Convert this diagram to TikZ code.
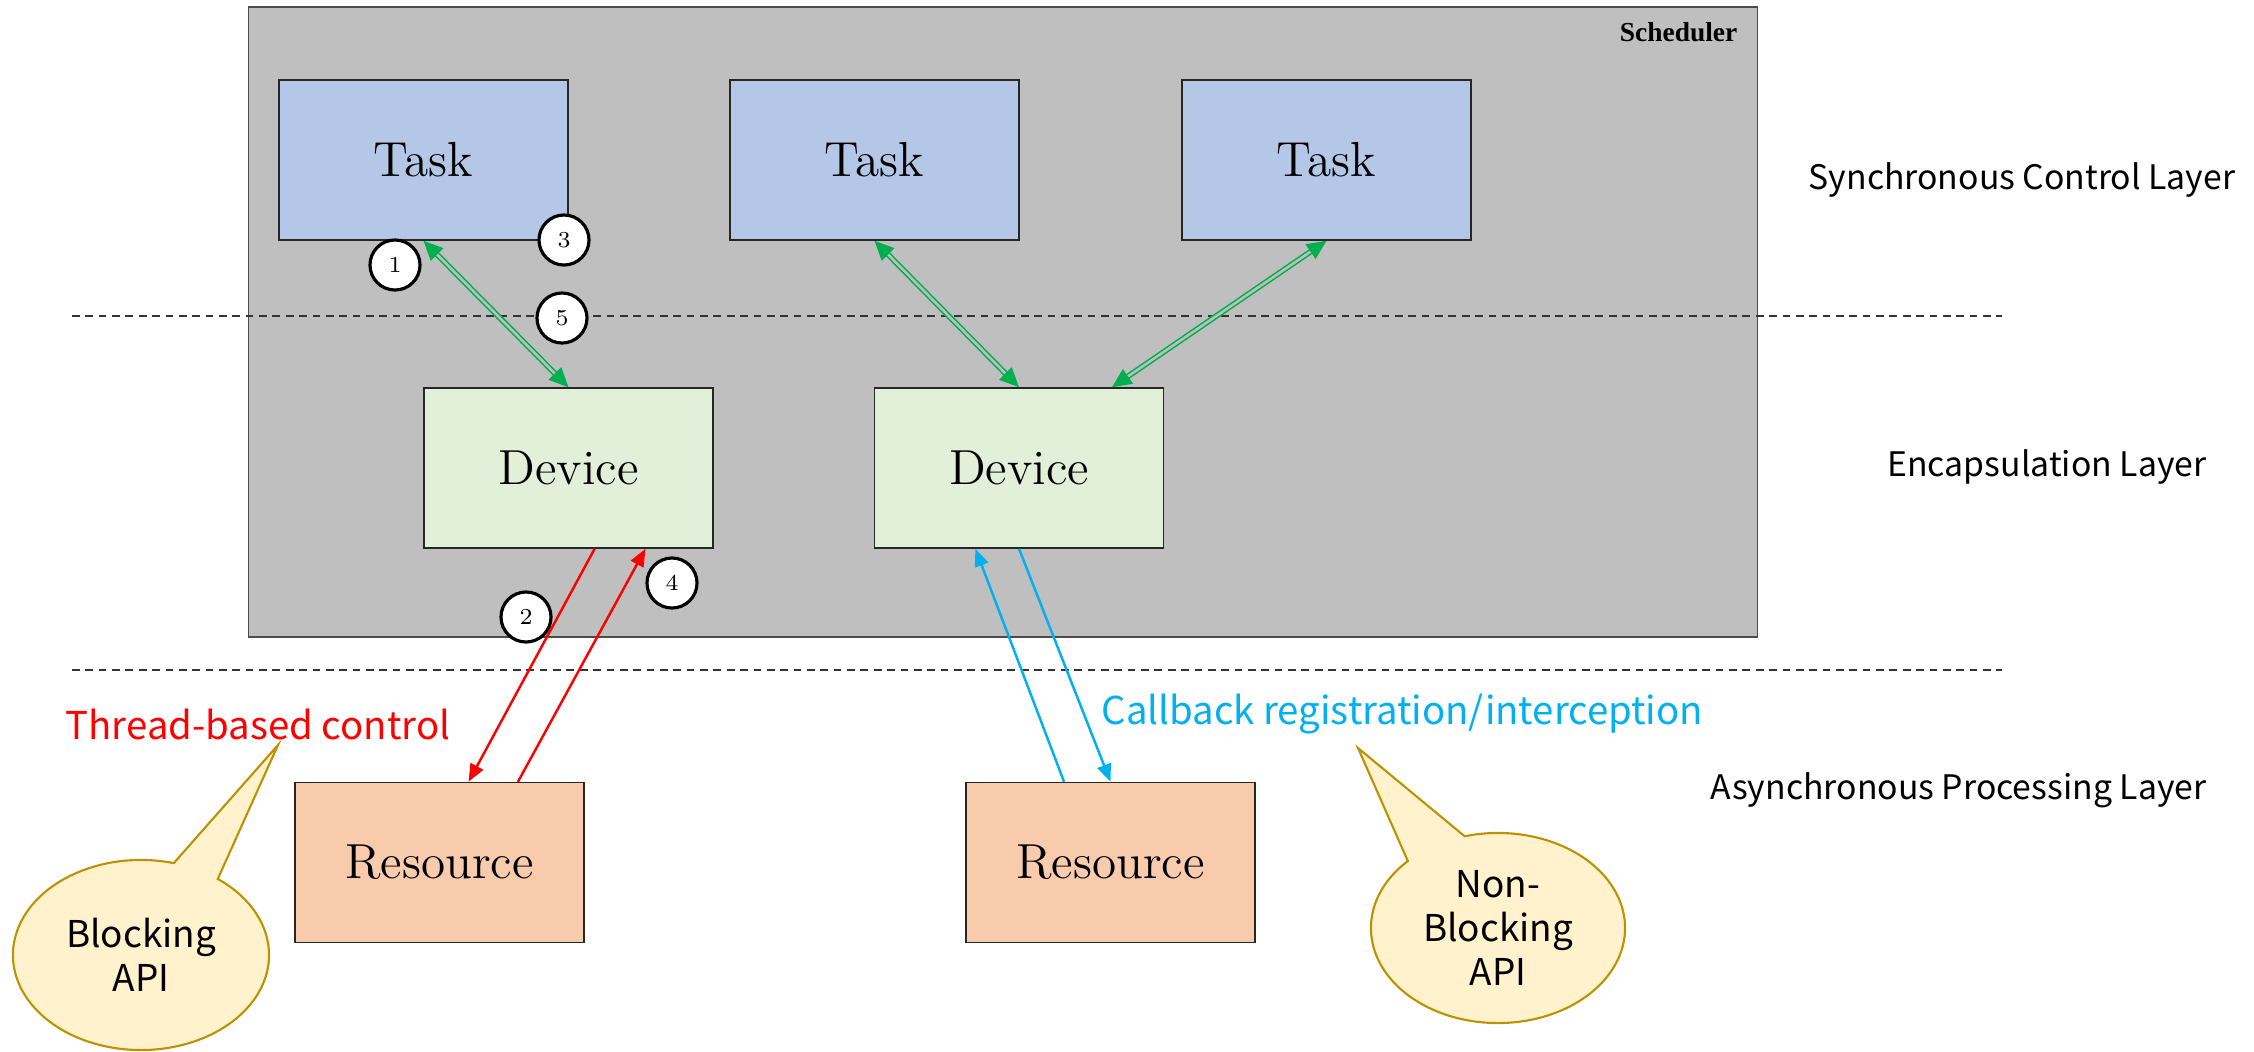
\documentclass[tikz,border=0pt]{standalone}
\usepackage{fontspec}
\newfontfamily\gothic{Noto Sans CJK JP}
\newfontfamily\schedfont{Liberation Serif}
\usetikzlibrary{arrows.meta,shapes.callouts,calc}
\definecolor{schedgray}{HTML}{BFBFBF}
\definecolor{taskblue}{HTML}{B4C7E7}
\definecolor{devgreen}{HTML}{E2F0D9}
\definecolor{resorange}{HTML}{F8CBAD}
\definecolor{arrgreen}{HTML}{00B050}
\definecolor{arrblue}{HTML}{00B0F0}
\definecolor{calloutfill}{HTML}{FFF2CC}
\definecolor{calloutdraw}{HTML}{BF9000}
\begin{document}
\begin{tikzpicture}[x=0.01cm,y=-0.01cm,
  box/.style={draw=black!85,line width=0.4pt,minimum width=2.89cm,minimum height=1.6cm,inner sep=0pt,font=\fontsize{14}{16}\selectfont},
  taskbox/.style={box,fill=taskblue},
  devbox/.style={box,fill=devgreen},
  resbox/.style={box,fill=resorange},
  schedbox/.style={draw=black!70,line width=0.4pt,fill=schedgray,minimum width=15.08cm,minimum height=6.3cm,inner sep=0pt},
  num/.style={circle,draw=black,line width=0.9pt,fill=white,minimum size=0.5cm,inner sep=0pt,font=\fontsize{6.5}{7}\selectfont},
  layer/.style={font=\gothic\fontsize{9.6}{11}\selectfont,inner sep=0pt},
  dashline/.style={draw=black!80,line width=0.4pt,dash pattern=on 2.2pt off 1.6pt},
  garrow/.style={draw=arrgreen,line width=0.45pt,double=schedgray,double distance=0.7pt,{Triangle[length=5.5pt,width=5pt]}-{Triangle[length=5.5pt,width=5pt]}},
  rarrow/.style={draw=red,line width=0.7pt,-{Triangle[length=5pt,width=4pt]}},
  barrow/.style={draw=arrblue,line width=0.7pt,-{Triangle[length=5pt,width=4pt]}},
  bubble/.style={ellipse callout,draw=calloutdraw,line width=0.6pt,fill=calloutfill,inner sep=0pt,align=center,font=\gothic\fontsize{10.5}{12.5}\selectfont},
  note/.style={font=\gothic\fontsize{10.9}{12.5}\selectfont,inner sep=0pt,anchor=west}
]
\useasboundingbox (0,0) rectangle (2254,1051);
% scheduler
\node[schedbox] (sched) at (1003,322) {};
\node[anchor=east,inner sep=0pt,font=\schedfont\bfseries\fontsize{7.8}{9}\selectfont] (schedlbl) at (1738,32) {Scheduler};
% layer separators
\draw[dashline] (72,316) -- (2002,316);
\draw[dashline] (72,670) -- (2002,670);
% boxes
\node[taskbox] (t1) at (423.5,160) {Task};
\node[taskbox] (t2) at (874.5,160) {Task};
\node[taskbox] (t3) at (1326.5,160) {Task};
\node[devbox] (d1) at (568.5,468) {Device};
\node[devbox] (d2) at (1019,468) {Device};
\node[resbox] (r1) at (439.5,862.5) {Resource};
\node[resbox] (r2) at (1110.5,862.5) {Resource};
% green connectors
\draw[garrow] (t1.south) -- (d1.north);
\draw[garrow] (t2.south) -- (d2.north);
\draw[garrow] (t3.south) -- ($(d2.north west)!0.82!(d2.north east)$);
% red connectors
\draw[rarrow] ($(d1.south west)!0.59!(d1.south east)$) -- ($(r1.north west)!0.60!(r1.north east)$);
\draw[rarrow] ($(r1.north west)!0.77!(r1.north east)$) -- ($(d1.south west)!0.765!(d1.south east)$);
% blue connectors
\draw[barrow] ($(r2.north west)!0.34!(r2.north east)$) -- ($(d2.south west)!0.35!(d2.south east)$);
\draw[barrow] (d2.south) -- (r2.north);
% numbered circles
\node[num] (n1) at (395,265) {1};
\node[num] (n3) at (564,240) {3};
\node[num] (n5) at (562,318) {5};
\node[num] (n2) at (526,617) {2};
\node[num] (n4) at (672,583) {4};
% layer labels
\node[layer,anchor=west] (lsync) at (1808,180) {Synchronous Control Layer};
\node[layer,anchor=east] (lenc) at (2207,467) {Encapsulation Layer};
\node[layer,anchor=east] (lasync) at (2207,790) {Asynchronous Processing Layer};
% notes
\node[note,text=red] (thread) at (65,724) {Thread-based control};
\node[note,text=arrblue] (cb) at (1101,714) {Callback registration/interception};
% callouts
\node[bubble,minimum width=2.56cm,minimum height=1.9cm,callout absolute pointer={(278,745)},callout pointer arc=22] (blk) at (141,955) {Blocking\\API};
\node[bubble,minimum width=2.54cm,minimum height=1.9cm,callout absolute pointer={(1358,748)},callout pointer arc=30] (nblk) at (1498,928) {Non-\\Blocking\\API};
\end{tikzpicture}
\end{document}
